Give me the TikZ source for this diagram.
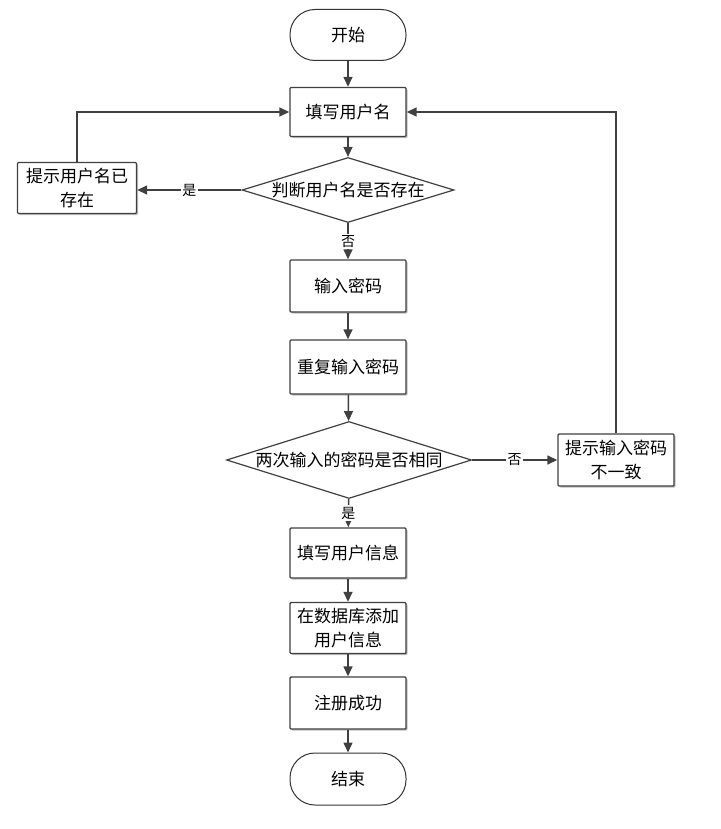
\documentclass[tikz,border=0pt]{standalone}
\usepackage{fontspec}
\newfontfamily\cjk{Noto Sans CJK SC}
\usetikzlibrary{positioning, arrows.meta, shapes.geometric, shadows}
\tikzset{
  box/.style={draw=black!75, line width=0.7pt, fill=white, rounded corners=0.5pt,
    minimum height=25.5pt, minimum width=58pt, align=center, inner sep=1pt,
    font=\cjk\fontsize{8.5}{12}\selectfont,
    drop shadow={shadow xshift=0.8pt, shadow yshift=-0.8pt, fill=black!25, opacity=1}},
  term/.style={draw=black!80, line width=0.5pt, rounded corners=12.5pt,
    minimum height=25.5pt, minimum width=58pt, font=\cjk\fontsize{8.5}{12}\selectfont},
  decide/.style={diamond, draw=black!75, line width=0.6pt, inner sep=0pt,
    font=\cjk\fontsize{8.5}{12}\selectfont},
  lbl/.style={fill=white, inner sep=0.8pt, font=\cjk\fontsize{7}{8}\selectfont},
  flow/.style={draw=black!75, line width=0.75pt, -{Triangle[length=5pt, width=4.5pt]}},
}

\begin{document}
\begin{tikzpicture}[x=0.5pt, y=-0.5pt]
    \useasboundingbox (0,0) rectangle (720,829);
    % main column
    \node[term] (start) at (348,35) {开始};
    \node[box, minimum height=24.5pt] (name) at (348,112) {填写用户名};
    \node[decide, minimum width=106pt, minimum height=32.5pt] (chk) at (348,190) {\makebox[0pt]{判断用户名是否存在}};
    \node[box, minimum height=26pt] (pwd) at (348,286) {输入密码};
    \node[box, minimum height=27pt] (again) at (348,367) {重复输入密码};
    \node[decide, minimum width=122.5pt, minimum height=38.5pt] (same) at (349,460) {\makebox[0pt]{两次输入的密码是否相同}};
    \node[box, minimum height=25pt] (info) at (348,553) {填写用户信息};
    \node[box] (db) at (348,628) {在数据库添加\\用户信息};
    \node[box, minimum height=26pt] (ok) at (348,703) {注册成功};
    \node[term, minimum height=26pt] (stop) at (348,779) {结束};
    % side boxes
    \node[box, minimum width=59.5pt] (exists) at (77,188) {提示用户名已\\存在};
    \node[box, minimum height=26pt] (diff) at (616,460) {提示输入密码\\不一致};

    \draw[flow] (start) -- (name);
    \draw[flow] (name) -- (chk);
    \draw[flow] (chk.west) -- node[lbl] {是} (exists.east |- chk.west);
    \draw[flow] (chk) -- node[lbl] {否} (pwd);
    \draw[flow] (pwd) -- (again);
    \draw[flow] (again) -- (same);
    \draw[flow] (same) -- node[lbl] {否} (diff);
    \draw[flow] (same) -- node[lbl] {是} (info);
    \draw[flow] (info) -- (db);
    \draw[flow] (db) -- (ok);
    \draw[flow] (ok) -- (stop);
    \draw[flow] (exists.north) |- (name.west);
    \draw[flow] (diff.north) |- (name.east);
  \end{tikzpicture}
\end{document}
